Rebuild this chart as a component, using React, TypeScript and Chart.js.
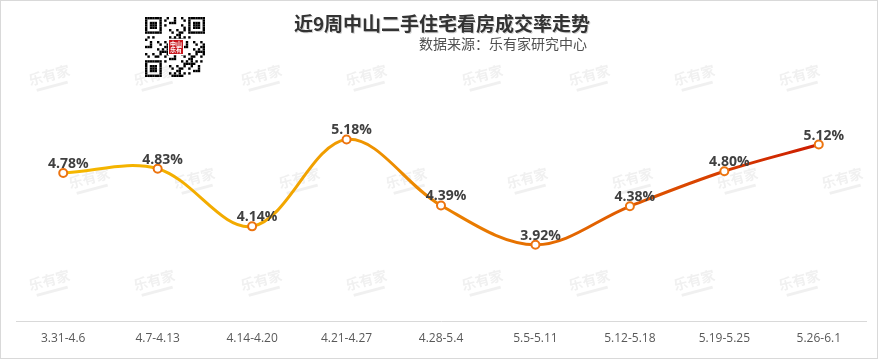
import React, { useEffect, useRef } from "react";
import { Chart, registerables } from "chart.js";

Chart.register(...registerables);

const categories = ["3.31-4.6", "4.7-4.13", "4.14-4.20", "4.21-4.27", "4.28-5.4", "5.5-5.11", "5.12-5.18", "5.19-5.25", "5.26-6.1"];
const rates = [4.78, 4.83, 4.14, 5.18, 4.39, 3.92, 4.38, 4.80, 5.12];
const title = "近9周中山二手住宅看房成交率走势";
const subtitle = "数据来源：乐有家研究中心";
const watermark = "乐有家";

const CJK = '"Noto Sans CJK SC", "Noto Sans", sans-serif';

const decorPlugin = {
  id: "decor",
  beforeDraw(chart: any) {
    const ctx = chart.ctx;
    ctx.save();
    ctx.fillStyle = "#ffffff";
    ctx.fillRect(0, 0, chart.width, chart.height);
    // watermarks
    const rowA = [50, 155, 262, 367, 483, 590, 695, 800];
    const rowB = [90, 195, 300, 407, 528, 633, 738, 843];
    const rows: [number, number[]][] = [[78, rowA], [181, rowB], [283, rowA]];
    ctx.fillStyle = "rgba(205,205,205,0.3)";
    for (const [y, xs] of rows) {
      for (const x of xs) {
        ctx.save();
        ctx.translate(x, y);
        ctx.rotate(-0.26);
        ctx.font = `bold 14px ${CJK}`;
        ctx.textAlign = "center";
        ctx.textBaseline = "middle";
        ctx.fillText(watermark, 0, -3);
        ctx.fillRect(-16, 7, 32, 3);
        ctx.restore();
      }
    }
    // border
    ctx.strokeStyle = "#d9d9d9";
    ctx.lineWidth = 1;
    ctx.strokeRect(0.5, 0.5, 877, 358);
    // QR placeholder
    const qx = 145, qy = 17, n = 25, m = 2.4;
    ctx.fillStyle = "#000";
    const finder = (cx: number, cy: number) => {
      for (let i = 0; i < 7; i++) for (let j = 0; j < 7; j++) {
        const on = i === 0 || j === 0 || i === 6 || j === 6 || (i >= 2 && i <= 4 && j >= 2 && j <= 4);
        if (on) ctx.fillRect(qx + (cx + i) * m, qy + (cy + j) * m, m, m);
      }
    };
    finder(0, 0); finder(n - 7, 0); finder(0, n - 7);
    for (let i = 0; i < n; i++) for (let j = 0; j < n; j++) {
      const inF = (i < 8 && j < 8) || (i >= n - 8 && j < 8) || (i < 8 && j >= n - 8);
      if (inF) continue;
      const v = (i * 7 + j * 13 + ((i * j) % 5)) % 3;
      if (v === 0) ctx.fillRect(qx + i * m, qy + j * m, m, m);
    }
    ctx.fillStyle = "#fff";
    ctx.fillRect(qx + 23, qy + 22, 16, 16);
    ctx.fillStyle = "#c8161d";
    ctx.fillRect(qx + 24, qy + 23, 14, 14);
    ctx.fillStyle = "#fff";
    ctx.font = `bold 6px ${CJK}`;
    ctx.textAlign = "center";
    ctx.textBaseline = "middle";
    ctx.fillText("中山", qx + 31, qy + 27);
    ctx.fillText("乐有", qx + 31, qy + 33);
    // title
    ctx.textAlign = "center";
    ctx.textBaseline = "alphabetic";
    ctx.font = `bold 19px ${CJK}`;
    ctx.fillStyle = "rgba(0,0,0,0.18)";
    ctx.fillText(title, 443, 32);
    ctx.fillStyle = "#333333";
    ctx.fillText(title, 442, 31);
    ctx.textAlign = "right";
    ctx.font = `14px ${CJK}`;
    ctx.fillStyle = "#505050";
    ctx.fillText(subtitle, 587, 49);
    ctx.restore();
  },
  afterDatasetsDraw(chart: any) {
    const ctx = chart.ctx;
    const meta = chart.getDatasetMeta(0);
    ctx.save();
    ctx.font = 'bold 14px "Open Sans", "Noto Sans", sans-serif';
    ctx.fillStyle = "#404040";
    ctx.textAlign = "center";
    ctx.textBaseline = "alphabetic";
    meta.data.forEach((pt: any, i: number) => {
      ctx.fillText(rates[i].toFixed(2) + "%", pt.x + 5, pt.y - 5);
    });
    ctx.restore();
  },
};

export default function App() {
  const ref = useRef<HTMLCanvasElement>(null);
  useEffect(() => {
    document.body.style.margin = "0";
    const canvas = ref.current!;
    const ctx2 = canvas.getContext("2d")!;
    const grad = ctx2.createLinearGradient(62, 0, 818, 0);
    grad.addColorStop(0, "#F5B800");
    grad.addColorStop(0.3, "#F2A600");
    grad.addColorStop(0.5, "#EB8200");
    grad.addColorStop(0.75, "#E05A00");
    grad.addColorStop(1, "#CC1C00");
    const chart = new Chart(canvas, {
      type: "line",
      data: {
        labels: categories,
        datasets: [
          {
            data: rates,
            borderColor: grad,
            borderWidth: 3,
            tension: 0.35,
            pointRadius: 4,
            pointBorderWidth: 2,
            pointBackgroundColor: "#ffffff",
            pointBorderColor: "#EC7410",
            fill: false,
          },
        ],
      },
      options: {
        responsive: false,
        animation: false,
        layout: { padding: { left: 16, right: 15, top: 71, bottom: 4 } },
        plugins: { legend: { display: false }, tooltip: { enabled: false } },
        scales: {
          x: {
            offset: true,
            grid: { display: false, drawTicks: false },
            border: { display: true, color: "#d9d9d9", width: 1 },
            ticks: {
              color: "#595959",
              padding: 10,
              font: { size: 12, family: '"Open Sans", "Noto Sans", sans-serif' },
              maxRotation: 0,
              autoSkip: false,
            },
          },
          y: { display: false, min: 3, max: 6 },
        },
      },
      plugins: [decorPlugin],
    });
    return () => chart.destroy();
  }, []);
  return <canvas ref={ref} width={881} height={360} style={{ display: "block" }} />;
}
